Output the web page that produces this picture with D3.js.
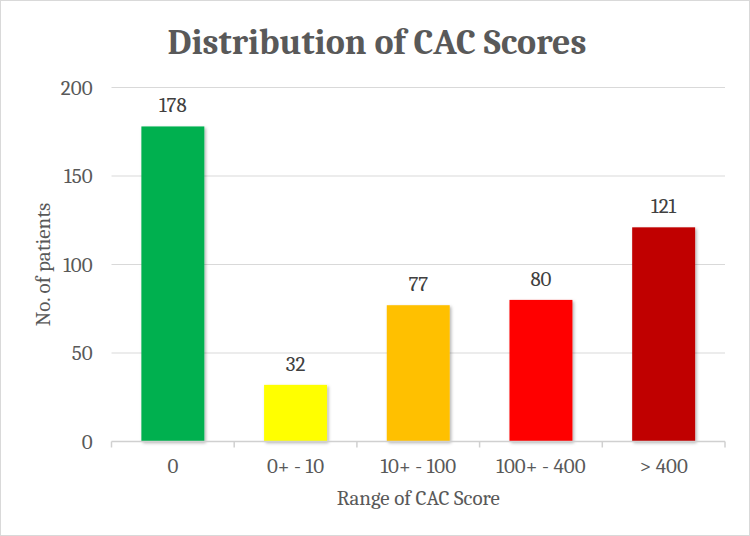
<!DOCTYPE html>
<html>
<head>
<meta charset="utf-8">
<script src="https://cdn.jsdelivr.net/npm/d3@7"></script>
<style>
  body { margin: 0; background: #fff; }
</style>
</head>
<body>
<div id="vis"></div>
<script>
const categories = ["0", "0+ - 10", "10+ - 100", "100+ - 400", "> 400"];
const patients = [178, 32, 77, 80, 121];
const barColors = ["#00B050", "#FFFF00", "#FFC000", "#FF0000", "#C00000"];
const yTicks = [0, 50, 100, 150, 200];

const W = 750, H = 536;
const margin = { top: 87.5, right: 25, bottom: 94.5, left: 111.5 };
const width = W - margin.left - margin.right;
const height = H - margin.top - margin.bottom;

const font = "Cambria, 'DejaVu Serif', serif";
const textColor = "#595959";

const root = d3.select("#vis")
  .append("svg")
  .attr("width", W)
  .attr("height", H)
  .style("display", "block");

// outer chart border
root.append("rect")
  .attr("x", 0.5).attr("y", 0.5)
  .attr("width", W - 1).attr("height", H - 1)
  .attr("fill", "#fff")
  .attr("stroke", "#d9d9d9");

const defs = root.append("defs");
const shadow = defs.append("filter").attr("id", "shadow")
  .attr("x", "-20%").attr("y", "-20%").attr("width", "140%").attr("height", "140%");
shadow.append("feDropShadow")
  .attr("dx", 1.5).attr("dy", 1.5).attr("stdDeviation", 1.5)
  .attr("flood-color", "#000").attr("flood-opacity", 0.3);

root.append("text")
  .attr("x", 377).attr("y", 54)
  .attr("text-anchor", "middle")
  .style("font", `bold 36px ${font}`)
  .attr("fill", textColor)
  .text("Distribution of CAC Scores");

const svg = root.append("g")
  .attr("transform", `translate(${margin.left},${margin.top})`);

// bars take ~51% of each category slot, centred
const x = d3.scaleBand().domain(categories).range([0, width]).paddingInner(0.487).paddingOuter(0.2435);
const xOuter = d3.scaleBand().domain(categories).range([0, width]);
const y = d3.scaleLinear().domain([0, 200]).range([height, 0]);

// gridlines
svg.append("g")
  .selectAll("line")
  .data(yTicks.filter(d => d > 0))
  .join("line")
  .attr("x1", 0).attr("x2", width)
  .attr("y1", d => y(d)).attr("y2", d => y(d))
  .attr("stroke", "#d9d9d9")
  .attr("stroke-width", 1);

// y labels
svg.append("g")
  .selectAll("text")
  .data(yTicks)
  .join("text")
  .attr("x", -19).attr("y", d => y(d))
  .attr("dy", "0.35em")
  .attr("text-anchor", "end")
  .style("font", `21px ${font}`)
  .attr("fill", textColor)
  .text(d => d);

// bars
svg.append("g")
  .selectAll("rect")
  .data(patients)
  .join("rect")
  .attr("x", (d, i) => x(categories[i]))
  .attr("y", d => y(d))
  .attr("width", x.bandwidth())
  .attr("height", d => height - y(d))
  .attr("fill", (d, i) => barColors[i])
  .attr("filter", "url(#shadow)");

// value labels
svg.append("g")
  .selectAll("text")
  .data(patients)
  .join("text")
  .attr("x", (d, i) => x(categories[i]) + x.bandwidth() / 2)
  .attr("y", d => y(d) - 14)
  .attr("text-anchor", "middle")
  .style("font", `21px ${font}`)
  .attr("fill", "#404040")
  .text(d => d);

// x axis line + ticks
const xAxis = svg.append("g").attr("transform", `translate(0,${height})`);
xAxis.append("line")
  .attr("x1", 0).attr("x2", width)
  .attr("stroke", "#d0d0d0").attr("stroke-width", 1.5);
xAxis.selectAll(".tick")
  .data(categories.concat([null]))
  .join("line")
  .attr("x1", (d, i) => i < categories.length ? xOuter(d) : width)
  .attr("x2", (d, i) => i < categories.length ? xOuter(d) : width)
  .attr("y1", 0).attr("y2", 6)
  .attr("stroke", "#d0d0d0").attr("stroke-width", 1.5);

xAxis.selectAll("text")
  .data(categories)
  .join("text")
  .attr("x", d => xOuter(d) + xOuter.bandwidth() / 2)
  .attr("y", 31)
  .attr("text-anchor", "middle")
  .style("font", `21px ${font}`)
  .attr("fill", textColor)
  .text(d => d);

// axis titles
svg.append("text")
  .attr("x", width / 2).attr("y", height + 63)
  .attr("text-anchor", "middle")
  .style("font", `21px ${font}`)
  .attr("fill", textColor)
  .text("Range of CAC Score");

svg.append("text")
  .attr("transform", `translate(${-62},${height / 2}) rotate(-90)`)
  .attr("text-anchor", "middle")
  .style("font", `21px ${font}`)
  .attr("fill", textColor)
  .text("No. of patients");
</script>
</body>
</html>
